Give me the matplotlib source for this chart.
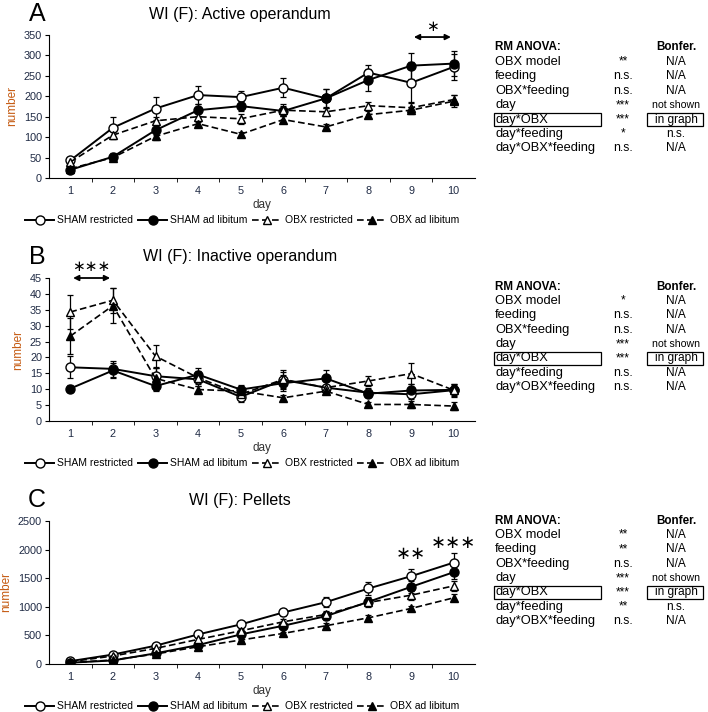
import numpy as np
import matplotlib.pyplot as plt
from matplotlib.lines import Line2D

plt.rcParams['font.family'] = ['Liberation Sans', 'DejaVu Sans']

days = [1, 2, 3, 4, 5, 6, 7, 8, 9, 10]
labels = ['SHAM restricted', 'SHAM ad libitum', 'OBX restricted', 'OBX ad libitum']

# panel A: active operandum
a_sham_r = [43, 123, 170, 203, 198, 221, 195, 258, 233, 272]
a_sham_a = [20, 52, 117, 166, 176, 164, 195, 240, 275, 280]
a_obx_r = [39, 105, 140, 150, 145, 166, 162, 177, 172, 192]
a_obx_a = [23, 50, 102, 133, 107, 143, 125, 155, 166, 188]
a_sham_r_err = [6, 27, 29, 22, 15, 23, 24, 18, 50, 32]
a_sham_a_err = [5, 8, 12, 15, 12, 12, 22, 28, 32, 31]
a_obx_r_err = [6, 10, 10, 12, 12, 15, 10, 10, 15, 12]
a_obx_a_err = [4, 6, 8, 8, 5, 8, 8, 8, 8, 15]

# panel B: inactive operandum
b_sham_r = [16.9, 16.4, 14.1, 13.1, 7.6, 12.9, 10.5, 8.9, 8.4, 9.7]
b_sham_a = [10.2, 15.9, 11.0, 14.6, 9.9, 11.9, 13.4, 8.6, 9.6, 9.8]
b_obx_r = [34.3, 38.0, 20.4, 13.6, 8.4, 13.1, 10.5, 12.6, 14.9, 9.7]
b_obx_a = [26.7, 36.3, 13.4, 9.9, 9.4, 7.3, 9.4, 5.2, 5.2, 4.7]
b_sham_r_err = [3.4, 2.5, 2.5, 2.0, 1.5, 2.5, 2.0, 1.5, 1.5, 2.0]
b_sham_a_err = [1.0, 2.5, 1.5, 2.0, 1.5, 2.5, 2.5, 1.0, 2.0, 2.0]
b_obx_r_err = [5.5, 4.0, 3.6, 2.0, 1.5, 3.0, 2.0, 1.5, 3.4, 1.5]
b_obx_a_err = [5.7, 5.4, 3.5, 1.0, 1.5, 1.0, 1.0, 0.8, 1.0, 1.2]

# panel C: pellets
c_sham_r = [50, 165, 320, 517, 692, 901, 1081, 1320, 1535, 1773]
c_sham_a = [23, 62, 186, 331, 517, 669, 837, 1087, 1349, 1605]
c_obx_r = [40, 140, 273, 430, 580, 738, 866, 1076, 1203, 1366]
c_obx_a = [23, 70, 174, 302, 419, 535, 669, 808, 971, 1157]
c_sham_r_err = [10, 20, 30, 40, 50, 60, 90, 110, 130, 160]
c_sham_a_err = [5, 15, 20, 30, 40, 55, 70, 90, 100, 120]
c_obx_r_err = [5, 15, 20, 30, 40, 50, 60, 70, 80, 90]
c_obx_a_err = [5, 10, 15, 20, 25, 30, 40, 40, 50, 60]

# RM ANOVA tables
terms = ['OBX model', 'feeding', 'OBX*feeding', 'day', 'day*OBX', 'day*feeding', 'day*OBX*feeding']
a_sig = ['**', 'n.s.', 'n.s.', '***', '***', '*', 'n.s.']
a_bonf = ['N/A', 'N/A', 'N/A', 'not shown', 'in graph', 'n.s.', 'N/A']
b_sig = ['*', 'n.s.', 'n.s.', '***', '***', 'n.s.', 'n.s.']
b_bonf = ['N/A', 'N/A', 'N/A', 'not shown', 'in graph', 'N/A', 'N/A']
c_sig = ['**', '**', 'n.s.', '***', '***', '**', 'n.s.']
c_bonf = ['N/A', 'N/A', 'N/A', 'not shown', 'in graph', 'n.s.', 'N/A']

navy = '#1f2a44'
orange = '#c55a11'

W, H = 708, 712
fig = plt.figure(figsize=(W / 100, H / 100), dpi=100)


def px(x, y):
    return x / W, 1 - y / H


styles = [
    dict(marker='o', mfc='white', ls='-', lw=1.4, ms=6.5),
    dict(marker='o', mfc='black', ls='-', lw=1.4, ms=6.5),
    dict(marker='^', mfc='white', ls=(0, (4, 2)), lw=1.2, ms=6),
    dict(marker='^', mfc='black', ls=(0, (4, 2)), lw=1.2, ms=6),
]


def draw_panel(top_px, letter, title, series, errs, ymax, ystep):
    left, bottom = px(49, top_px + 143)
    ax = fig.add_axes([left, bottom, 426 / W, 143 / H])
    for y, e, st in zip(series, errs, styles):
        ax.errorbar(days, y, yerr=e, color='black', mec='black', capsize=2.5,
                    elinewidth=0.9, capthick=0.9, **st)
    ax.set_xlim(0.5, 10.5)
    ax.set_ylim(0, ymax)
    ax.set_yticks(np.arange(0, ymax + ystep / 2, ystep))
    ax.set_xticks(days)
    ax.set_xticks(np.arange(1.5, 10, 1), minor=True)
    ax.tick_params(axis='x', which='major', length=0, labelsize=7.8, colors=navy, pad=6)
    ax.tick_params(axis='x', which='minor', length=3, direction='out', color='black')
    ax.tick_params(axis='y', length=3, direction='out', labelsize=7.8, labelcolor=navy, pad=2)
    for s in ['top', 'right']:
        ax.spines[s].set_visible(False)
    ax.set_xlabel('day', fontsize=8.5, color='#333333', labelpad=2)
    ax.set_ylabel('number', fontsize=8.5, color=orange, labelpad=4)
    handles = [Line2D([], [], color='black', mec='black', **st) for st in styles]
    ax.legend(handles, labels, loc='center', bbox_to_anchor=(0.453, -0.295), ncol=4,
              frameon=False, fontsize=7.5, handlelength=2.8, columnspacing=0.45,
              handletextpad=0.3, numpoints=1)
    fig.text(*px(37, top_px - 21), letter, fontsize=18, ha='center', va='center')
    fig.text(*px(240, top_px - 21), title, fontsize=11.5, ha='center', va='center')
    return ax


def draw_table(top_px, sig, bonf):
    # text sits on a baseline 3.5 px below each row centre
    fig.text(*px(495, top_px + 3.5), 'RM ANOVA:', fontsize=8.4, fontweight='bold', va='baseline')
    fig.text(*px(676, top_px + 3.5), 'Bonfer.', fontsize=8.4, fontweight='bold',
             va='baseline', ha='center')
    for i, (t, s, b) in enumerate(zip(terms, sig, bonf)):
        y = top_px + 14.4 * (i + 1)
        fig.text(*px(495, y + 3.5), t, fontsize=9.3, va='baseline')
        if '*' in s:
            fig.text(*px(623, y + 3.5), s, fontsize=8.5, va='baseline', ha='center')
        else:
            fig.text(*px(623, y + 3.5), s, fontsize=8.8, va='baseline', ha='center')
        fig.text(*px(676, y + 3.5), b, fontsize=7.6 if b == 'not shown' else 8.6,
                 va='baseline', ha='center')
        if t == 'day*OBX':
            for x0, x1 in [(494, 601), (647, 703)]:
                fx0, fy0 = px(x0, y + 6.5)
                fx1, fy1 = px(x1, y - 6.5)
                fig.add_artist(plt.Rectangle((fx0, fy0), fx1 - fx0, fy1 - fy0, fill=False,
                                             lw=0.9, ec='black', transform=fig.transFigure))


axA = draw_panel(35, 'A', 'WI (F): Active operandum',
                 [a_sham_r, a_sham_a, a_obx_r, a_obx_a],
                 [a_sham_r_err, a_sham_a_err, a_obx_r_err, a_obx_a_err], 350, 50)
axA.annotate('', xy=(9, 345), xytext=(10, 345), annotation_clip=False,
             arrowprops=dict(arrowstyle='<|-|>', color='black', lw=1.3, mutation_scale=8))
axA.text(9.5, 372, '∗', ha='center', va='center', fontsize=11, clip_on=False,
         family='DejaVu Sans')
draw_table(47, a_sig, a_bonf)

axB = draw_panel(278, 'B', 'WI (F): Inactive operandum',
                 [b_sham_r, b_sham_a, b_obx_r, b_obx_a],
                 [b_sham_r_err, b_sham_a_err, b_obx_r_err, b_obx_a_err], 45, 5)
axB.annotate('', xy=(1, 45), xytext=(2, 45), annotation_clip=False,
             arrowprops=dict(arrowstyle='<|-|>', color='black', lw=1.3, mutation_scale=8))
axB.text(1.5, 48.6, '∗∗∗', ha='center', va='center', fontsize=11, clip_on=False,
         family='DejaVu Sans')
draw_table(286, b_sig, b_bonf)

axC = draw_panel(521, 'C', 'WI (F): Pellets',
                 [c_sham_r, c_sham_a, c_obx_r, c_obx_a],
                 [c_sham_r_err, c_sham_a_err, c_obx_r_err, c_obx_a_err], 2500, 500)
axC.text(9, 1920, '∗∗', ha='center', va='center', fontsize=13, clip_on=False,
         family='DejaVu Sans')
axC.text(10, 2110, '∗∗∗', ha='center', va='center', fontsize=13, clip_on=False,
         family='DejaVu Sans')
draw_table(520, c_sig, c_bonf)

fig.savefig('out.png', dpi=100)
